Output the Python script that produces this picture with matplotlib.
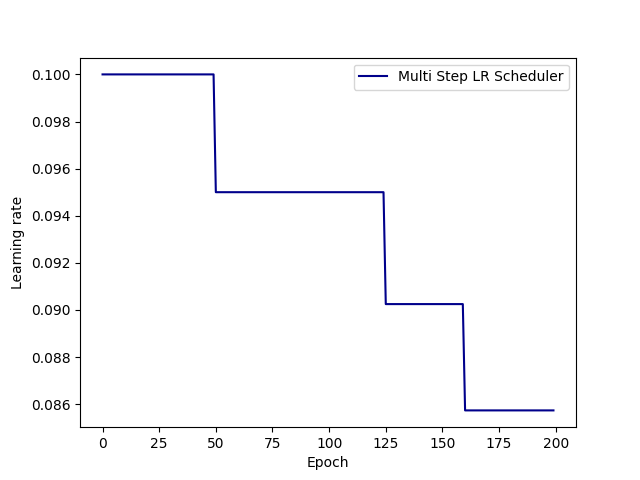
import numpy as np
import matplotlib
matplotlib.use("Agg")
import matplotlib.pyplot as plt

lr_levels = [0.1, 0.095, 0.09025, 0.0857375]
level_starts = [0, 50, 125, 160]
n_epochs = 200

epochs = np.arange(n_epochs)
lrs = np.repeat(lr_levels, np.diff(level_starts + [n_epochs]))

fig = plt.figure(figsize=(6.4, 4.8), dpi=100)
ax = fig.add_subplot(111)
ax.plot(epochs, lrs, color="darkblue", label="Multi Step LR Scheduler")
ax.set_xlabel("Epoch")
ax.set_ylabel("Learning rate")
ax.legend()
fig.savefig("out.png", dpi=100)
